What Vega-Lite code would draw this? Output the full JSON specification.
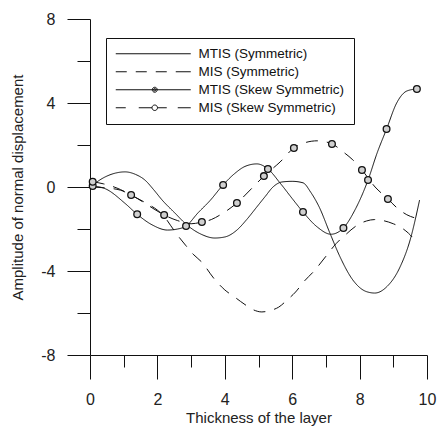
{
  "$schema": "https://vega.github.io/schema/vega-lite/v6.json",
  "width": 337,
  "height": 336,
  "autosize": {"type": "none"},
  "padding": {"left": 90, "top": 19, "right": 10, "bottom": 76},
  "background": "white",
  "config": {
    "view": {"stroke": null},
    "font": "Arial",
    "axis": {
      "grid": false,
      "domainColor": "#111",
      "tickColor": "#111",
      "labelColor": "#222",
      "titleColor": "#222",
      "labelFont": "Arial",
      "titleFont": "Arial",
      "titleFontWeight": "normal",
      "labelFontSize": 16,
      "titleFontSize": 15,
      "domainWidth": 1,
      "tickWidth": 1,
      "labelFlush": false,
      "labelOverlap": false
    }
  },
  "datasets": {
    "curves": [
      {"series": "MTIS (Symmetric)", "x": 0.08, "y": 0.1},
      {"series": "MTIS (Symmetric)", "x": 0.45, "y": 0.48},
      {"series": "MTIS (Symmetric)", "x": 0.75, "y": 0.66},
      {"series": "MTIS (Symmetric)", "x": 1.04, "y": 0.72},
      {"series": "MTIS (Symmetric)", "x": 1.35, "y": 0.6},
      {"series": "MTIS (Symmetric)", "x": 1.63, "y": 0.33},
      {"series": "MTIS (Symmetric)", "x": 1.9, "y": -0.15},
      {"series": "MTIS (Symmetric)", "x": 2.14, "y": -0.62},
      {"series": "MTIS (Symmetric)", "x": 2.52, "y": -1.24},
      {"series": "MTIS (Symmetric)", "x": 2.87, "y": -1.8},
      {"series": "MTIS (Symmetric)", "x": 3.3, "y": -2.25},
      {"series": "MTIS (Symmetric)", "x": 3.7, "y": -2.43},
      {"series": "MTIS (Symmetric)", "x": 4.0, "y": -2.38},
      {"series": "MTIS (Symmetric)", "x": 4.36, "y": -2.05},
      {"series": "MTIS (Symmetric)", "x": 4.65, "y": -1.55},
      {"series": "MTIS (Symmetric)", "x": 4.95, "y": -0.95},
      {"series": "MTIS (Symmetric)", "x": 5.2, "y": -0.45},
      {"series": "MTIS (Symmetric)", "x": 5.43, "y": 0.0},
      {"series": "MTIS (Symmetric)", "x": 5.7, "y": 0.24},
      {"series": "MTIS (Symmetric)", "x": 6.0, "y": 0.27},
      {"series": "MTIS (Symmetric)", "x": 6.32, "y": 0.2},
      {"series": "MTIS (Symmetric)", "x": 6.55, "y": -0.25},
      {"series": "MTIS (Symmetric)", "x": 6.8, "y": -0.95},
      {"series": "MTIS (Symmetric)", "x": 7.12, "y": -2.2},
      {"series": "MTIS (Symmetric)", "x": 7.42, "y": -3.33},
      {"series": "MTIS (Symmetric)", "x": 7.8, "y": -4.43},
      {"series": "MTIS (Symmetric)", "x": 8.2, "y": -4.98},
      {"series": "MTIS (Symmetric)", "x": 8.45, "y": -5.05},
      {"series": "MTIS (Symmetric)", "x": 8.8, "y": -4.76},
      {"series": "MTIS (Symmetric)", "x": 9.2, "y": -3.81},
      {"series": "MTIS (Symmetric)", "x": 9.5, "y": -2.52},
      {"series": "MTIS (Symmetric)", "x": 9.78, "y": -0.62},

      {"series": "MIS (Symmetric)", "x": 0.08, "y": 0.0},
      {"series": "MIS (Symmetric)", "x": 0.5, "y": -0.05},
      {"series": "MIS (Symmetric)", "x": 0.9, "y": -0.15},
      {"series": "MIS (Symmetric)", "x": 1.3, "y": -0.45},
      {"series": "MIS (Symmetric)", "x": 1.7, "y": -0.8},
      {"series": "MIS (Symmetric)", "x": 2.0, "y": -1.1},
      {"series": "MIS (Symmetric)", "x": 2.2, "y": -1.4},
      {"series": "MIS (Symmetric)", "x": 2.4, "y": -1.85},
      {"series": "MIS (Symmetric)", "x": 2.6, "y": -2.3},
      {"series": "MIS (Symmetric)", "x": 2.85, "y": -2.8},
      {"series": "MIS (Symmetric)", "x": 3.06, "y": -3.2},
      {"series": "MIS (Symmetric)", "x": 3.3, "y": -3.55},
      {"series": "MIS (Symmetric)", "x": 3.7, "y": -4.4},
      {"series": "MIS (Symmetric)", "x": 4.0, "y": -4.9},
      {"series": "MIS (Symmetric)", "x": 4.3, "y": -5.25},
      {"series": "MIS (Symmetric)", "x": 4.6, "y": -5.6},
      {"series": "MIS (Symmetric)", "x": 4.85, "y": -5.85},
      {"series": "MIS (Symmetric)", "x": 5.1, "y": -5.95},
      {"series": "MIS (Symmetric)", "x": 5.35, "y": -5.88},
      {"series": "MIS (Symmetric)", "x": 5.6, "y": -5.72},
      {"series": "MIS (Symmetric)", "x": 5.85, "y": -5.38},
      {"series": "MIS (Symmetric)", "x": 6.1, "y": -5.0},
      {"series": "MIS (Symmetric)", "x": 6.35, "y": -4.5},
      {"series": "MIS (Symmetric)", "x": 6.65, "y": -4.0},
      {"series": "MIS (Symmetric)", "x": 7.0, "y": -3.3},
      {"series": "MIS (Symmetric)", "x": 7.3, "y": -2.7},
      {"series": "MIS (Symmetric)", "x": 7.6, "y": -2.25},
      {"series": "MIS (Symmetric)", "x": 7.9, "y": -1.85},
      {"series": "MIS (Symmetric)", "x": 8.2, "y": -1.62},
      {"series": "MIS (Symmetric)", "x": 8.45, "y": -1.55},
      {"series": "MIS (Symmetric)", "x": 8.7, "y": -1.6},
      {"series": "MIS (Symmetric)", "x": 9.0, "y": -1.75},
      {"series": "MIS (Symmetric)", "x": 9.2, "y": -1.9},
      {"series": "MIS (Symmetric)", "x": 9.45, "y": -2.2},
      {"series": "MIS (Symmetric)", "x": 9.7, "y": -2.65},

      {"series": "MTIS (Skew Symmetric)", "x": 0.08, "y": 0.05},
      {"series": "MTIS (Skew Symmetric)", "x": 0.45, "y": -0.08},
      {"series": "MTIS (Skew Symmetric)", "x": 1.04, "y": -0.78},
      {"series": "MTIS (Skew Symmetric)", "x": 1.4, "y": -1.3},
      {"series": "MTIS (Skew Symmetric)", "x": 1.84, "y": -1.8},
      {"series": "MTIS (Skew Symmetric)", "x": 2.3, "y": -2.05},
      {"series": "MTIS (Skew Symmetric)", "x": 2.6, "y": -2.0},
      {"series": "MTIS (Skew Symmetric)", "x": 2.85, "y": -1.86},
      {"series": "MTIS (Skew Symmetric)", "x": 3.2, "y": -1.24},
      {"series": "MTIS (Skew Symmetric)", "x": 3.56, "y": -0.65},
      {"series": "MTIS (Skew Symmetric)", "x": 3.95, "y": 0.1},
      {"series": "MTIS (Skew Symmetric)", "x": 4.3, "y": 0.65},
      {"series": "MTIS (Skew Symmetric)", "x": 4.6, "y": 0.98},
      {"series": "MTIS (Skew Symmetric)", "x": 4.95, "y": 1.1},
      {"series": "MTIS (Skew Symmetric)", "x": 5.28, "y": 0.86},
      {"series": "MTIS (Skew Symmetric)", "x": 5.64, "y": 0.19},
      {"series": "MTIS (Skew Symmetric)", "x": 6.0, "y": -0.55},
      {"series": "MTIS (Skew Symmetric)", "x": 6.32, "y": -1.19},
      {"series": "MTIS (Skew Symmetric)", "x": 6.74, "y": -1.9},
      {"series": "MTIS (Skew Symmetric)", "x": 7.15, "y": -2.25},
      {"series": "MTIS (Skew Symmetric)", "x": 7.52, "y": -1.95},
      {"series": "MTIS (Skew Symmetric)", "x": 7.86, "y": -1.1},
      {"series": "MTIS (Skew Symmetric)", "x": 8.25, "y": 0.33},
      {"series": "MTIS (Skew Symmetric)", "x": 8.52, "y": 1.62},
      {"series": "MTIS (Skew Symmetric)", "x": 8.8, "y": 2.76},
      {"series": "MTIS (Skew Symmetric)", "x": 9.1, "y": 4.0},
      {"series": "MTIS (Skew Symmetric)", "x": 9.4, "y": 4.57},
      {"series": "MTIS (Skew Symmetric)", "x": 9.7, "y": 4.67},

      {"series": "MIS (Skew Symmetric)", "x": 0.08, "y": 0.25},
      {"series": "MIS (Skew Symmetric)", "x": 0.4, "y": 0.15},
      {"series": "MIS (Skew Symmetric)", "x": 0.8, "y": -0.05},
      {"series": "MIS (Skew Symmetric)", "x": 1.22, "y": -0.38},
      {"series": "MIS (Skew Symmetric)", "x": 1.6, "y": -0.74},
      {"series": "MIS (Skew Symmetric)", "x": 1.9, "y": -1.05},
      {"series": "MIS (Skew Symmetric)", "x": 2.2, "y": -1.33},
      {"series": "MIS (Skew Symmetric)", "x": 2.6, "y": -1.6},
      {"series": "MIS (Skew Symmetric)", "x": 3.0, "y": -1.75},
      {"series": "MIS (Skew Symmetric)", "x": 3.32, "y": -1.67},
      {"series": "MIS (Skew Symmetric)", "x": 3.6, "y": -1.55},
      {"series": "MIS (Skew Symmetric)", "x": 3.86, "y": -1.33},
      {"series": "MIS (Skew Symmetric)", "x": 4.36, "y": -0.76},
      {"series": "MIS (Skew Symmetric)", "x": 4.84, "y": 0.0},
      {"series": "MIS (Skew Symmetric)", "x": 5.16, "y": 0.52},
      {"series": "MIS (Skew Symmetric)", "x": 5.64, "y": 1.19},
      {"series": "MIS (Skew Symmetric)", "x": 6.05, "y": 1.86},
      {"series": "MIS (Skew Symmetric)", "x": 6.4, "y": 2.12},
      {"series": "MIS (Skew Symmetric)", "x": 6.75, "y": 2.2},
      {"series": "MIS (Skew Symmetric)", "x": 7.18, "y": 2.05},
      {"series": "MIS (Skew Symmetric)", "x": 7.57, "y": 1.6},
      {"series": "MIS (Skew Symmetric)", "x": 7.8, "y": 1.29},
      {"series": "MIS (Skew Symmetric)", "x": 8.07, "y": 0.81},
      {"series": "MIS (Skew Symmetric)", "x": 8.46, "y": 0.0},
      {"series": "MIS (Skew Symmetric)", "x": 8.84, "y": -0.57},
      {"series": "MIS (Skew Symmetric)", "x": 9.1, "y": -0.98},
      {"series": "MIS (Skew Symmetric)", "x": 9.4, "y": -1.32},
      {"series": "MIS (Skew Symmetric)", "x": 9.7, "y": -1.5}
    ],
    "markers": [
      {"series": "MTIS (Skew Symmetric)", "x": 0.08, "y": 0.05},
      {"series": "MTIS (Skew Symmetric)", "x": 1.4, "y": -1.3},
      {"series": "MTIS (Skew Symmetric)", "x": 2.85, "y": -1.86},
      {"series": "MTIS (Skew Symmetric)", "x": 3.95, "y": 0.1},
      {"series": "MTIS (Skew Symmetric)", "x": 5.28, "y": 0.86},
      {"series": "MTIS (Skew Symmetric)", "x": 6.32, "y": -1.19},
      {"series": "MTIS (Skew Symmetric)", "x": 7.52, "y": -1.95},
      {"series": "MTIS (Skew Symmetric)", "x": 8.25, "y": 0.33},
      {"series": "MTIS (Skew Symmetric)", "x": 8.8, "y": 2.76},
      {"series": "MTIS (Skew Symmetric)", "x": 9.7, "y": 4.67},
      {"series": "MIS (Skew Symmetric)", "x": 0.08, "y": 0.25},
      {"series": "MIS (Skew Symmetric)", "x": 1.22, "y": -0.38},
      {"series": "MIS (Skew Symmetric)", "x": 2.2, "y": -1.33},
      {"series": "MIS (Skew Symmetric)", "x": 3.32, "y": -1.67},
      {"series": "MIS (Skew Symmetric)", "x": 4.36, "y": -0.76},
      {"series": "MIS (Skew Symmetric)", "x": 5.16, "y": 0.52},
      {"series": "MIS (Skew Symmetric)", "x": 6.05, "y": 1.86},
      {"series": "MIS (Skew Symmetric)", "x": 7.18, "y": 2.05},
      {"series": "MIS (Skew Symmetric)", "x": 8.07, "y": 0.81},
      {"series": "MIS (Skew Symmetric)", "x": 8.84, "y": -0.57}
    ],
    "legendEntries": [
      {"series": "MTIS (Symmetric)"},
      {"series": "MIS (Symmetric)"},
      {"series": "MTIS (Skew Symmetric)"},
      {"series": "MIS (Skew Symmetric)"}
    ]
  },
  "layer": [
    {
      "data": {"name": "curves"},
      "mark": {"type": "line", "interpolate": "monotone", "color": "#111", "strokeWidth": 1},
      "encoding": {
        "x": {
          "field": "x", "type": "quantitative",
          "scale": {"domain": [0, 10], "nice": false},
          "axis": {"orient": "bottom", "values": [0, 2, 4, 6, 8, 10], "tickSize": 24, "labelPadding": 12,
                   "labelExpr": "'' + datum.value", "title": "Thickness of the layer", "titlePadding": 3}
        },
        "y": {
          "field": "y", "type": "quantitative",
          "scale": {"domain": [-8, 8], "nice": false},
          "axis": {"orient": "left", "values": [-8, -4, 0, 4, 8], "tickSize": 23, "labelPadding": 12,
                   "labelExpr": "'' + datum.value",
                   "title": "Amplitude of normal displacement", "titlePadding": 15}
        },
        "strokeDash": {
          "field": "series", "type": "nominal",
          "scale": {
            "domain": ["MIS (Symmetric)", "MIS (Skew Symmetric)", "MTIS (Symmetric)", "MTIS (Skew Symmetric)"],
            "range": [[12, 9], [12, 9], [1, 0], [1, 0]]
          },
          "legend": null
        }
      }
    },
    {
      "data": {"name": "markers"},
      "mark": {"type": "point", "shape": "circle", "size": 45, "filled": true, "fill": "#d0d0d0", "stroke": "#111", "strokeWidth": 1.3, "opacity": 1},
      "encoding": {
        "x": {
          "field": "x", "type": "quantitative",
          "axis": {"orient": "bottom", "values": [1, 3, 5, 7, 9], "tickSize": 12, "labels": false, "domain": false, "title": null}
        },
        "y": {
          "field": "y", "type": "quantitative",
          "axis": {"orient": "left", "values": [-6, -2, 2, 6], "tickSize": 13, "labels": false, "domain": false, "title": null}
        }
      }
    },
    {
      "data": {"name": "legendEntries"},
      "mark": {"type": "point", "color": "#111", "size": 100, "strokeWidth": 1, "opacity": 1},
      "encoding": {
        "x": {"field": "x", "type": "quantitative", "axis": null},
        "y": {"field": "y", "type": "quantitative", "axis": null},
        "shape": {
          "field": "series", "type": "nominal",
          "scale": {
            "domain": ["MTIS (Symmetric)", "MIS (Symmetric)", "MTIS (Skew Symmetric)", "MIS (Skew Symmetric)"],
            "range": [
              "M-1.2,0H13.8",
              "M-1.2,0H1M2.8,0H5M6.8,0H9M10.8,0H13.8",
              "M-1.2,0H13.8M6.1,0A0.5,0.5 0 1,1 7.1,0A0.5,0.5 0 1,1 6.1,0ZM6.35,0A0.25,0.25 0 1,1 6.85,0A0.25,0.25 0 1,1 6.35,0Z",
              "M-1.2,0H0.8M3.4,0H6.05M7.15,0H9M11.2,0H13.8M6.05,0A0.55,0.55 0 1,1 7.15,0A0.55,0.55 0 1,1 6.05,0Z"
            ]
          },
          "legend": {
            "orient": "none", "legendX": 16, "legendY": 19, "title": null,
            "strokeColor": "#111", "padding": 9,
            "labelFont": "Arial", "labelFontSize": 13.5, "labelColor": "#111",
            "symbolSize": 100, "symbolStrokeWidth": 1, "symbolStrokeColor": "#111",
            "labelOffset": 70, "rowPadding": 3
          }
        }
      }
    }
  ],
  "resolve": {"axis": {"x": "independent", "y": "independent"}}
}
